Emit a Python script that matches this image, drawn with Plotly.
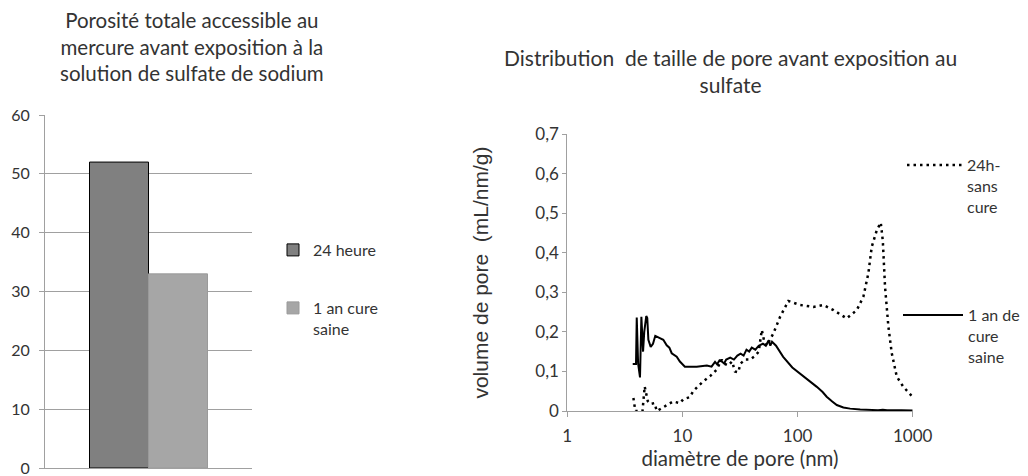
import plotly.graph_objects as go

# ---- Left chart data ----
bar_category = ["porosité"]
bar_names = ["24 heure", "1 an cure<br>saine"]
bar_values = [52, 33]
bar_colors = ["#808080", "#A6A6A6"]
bar_line_colors = ["#000000", "#9A9A9A"]
left_ticks = [0, 10, 20, 30, 40, 50, 60]

# ---- Right chart data ----
diam_1an = [3.70, 3.95, 4.01, 4.12, 4.28, 4.40, 4.55, 4.66, 4.85, 4.95,
            5.06, 5.3, 5.55, 5.81, 6.3, 6.82, 7.3, 7.7, 8.07, 8.92,
            9.5, 10.5, 13.3, 16.3, 17.9, 19.2, 20, 21, 22, 23,
            24, 26, 28, 30, 32, 34, 36, 38, 40, 43,
            46, 50, 53, 56, 58, 60, 65, 75, 90, 105,
            125, 147, 165, 179, 200, 219, 250, 286, 350, 400,
            500, 550, 600, 800, 1000]
vol_1an = [0.119, 0.119, 0.236, 0.12, 0.085, 0.238, 0.15, 0.2, 0.24, 0.235,
           0.18, 0.162, 0.17, 0.19, 0.185, 0.18, 0.166, 0.16, 0.146, 0.137,
           0.125, 0.112, 0.112, 0.115, 0.112, 0.124, 0.118, 0.128, 0.125, 0.12,
           0.13, 0.135, 0.13, 0.14, 0.145, 0.14, 0.155, 0.15, 0.16, 0.155,
           0.165, 0.17, 0.165, 0.178, 0.165, 0.175, 0.165, 0.137, 0.11, 0.095,
           0.078, 0.061, 0.048, 0.036, 0.024, 0.015, 0.009, 0.006, 0.004, 0.003,
           0.002, 0.003, 0.002, 0.002, 0.001]

diam_24h = [3.75, 3.8, 3.9, 4.2, 4.5, 4.7, 4.85, 5.0, 5.3, 5.7,
            6.0, 6.6, 7.3, 8.3, 9.5, 10.2, 11.6, 12.4, 13.4, 15.2,
            17.4, 19.9, 21.9, 23, 25, 27, 28.6, 30.5, 32, 35,
            38.6, 43, 46, 48.9, 51, 54, 61.6, 70.5, 83.2, 105,
            137, 167, 205, 267, 327, 373, 412, 441, 488, 528,
            550, 575, 615, 658, 727, 830, 982]
vol_24h = [0.033, 0.017, 0.0, 0.0, 0.0, 0.062, 0.045, 0.025, 0.018, 0.02,
           0.0, 0.007, 0.015, 0.024, 0.02, 0.03, 0.035, 0.05, 0.06, 0.075,
           0.088, 0.105, 0.13, 0.12, 0.115, 0.125, 0.1, 0.098, 0.12, 0.13,
           0.13, 0.14, 0.15, 0.205, 0.18, 0.165, 0.196, 0.238, 0.278, 0.268,
           0.263, 0.268, 0.255, 0.234, 0.255, 0.289, 0.348, 0.415, 0.457, 0.476,
           0.43, 0.314, 0.213, 0.146, 0.087, 0.061, 0.038]

right_yticks = [0, 0.1, 0.2, 0.3, 0.4, 0.5, 0.6, 0.7]
right_yticktext = ["0", "0,1", "0,2", "0,3", "0,4", "0,5", "0,6", "0,7"]
right_xticks = [1, 10, 100, 1000]
right_xticktext = ["1", "10", "100", "1000"]

FONT = "Lato"
TXT = "#333333"
AX = "#A0A0A0"
GRID = "#A0A0A0"

fig = go.Figure()

fig.add_trace(go.Bar(x=bar_category, y=[bar_values[0]], name=bar_names[0],
                     marker=dict(color=bar_colors[0], line=dict(color=bar_line_colors[0], width=1)),
                     xaxis="x", yaxis="y", legend="legend"))
fig.add_trace(go.Bar(x=bar_category, y=[bar_values[1]], name=bar_names[1],
                     marker=dict(color=bar_colors[1], line=dict(color=bar_line_colors[1], width=1)),
                     xaxis="x", yaxis="y", legend="legend2"))

fig.add_trace(go.Scatter(x=diam_24h, y=vol_24h, mode="lines", name="24h-<br>sans<br>cure",
                         line=dict(color="#000000", width=2.5, dash="2.5px,4px"),
                         xaxis="x2", yaxis="y2", legend="legend3"))
fig.add_trace(go.Scatter(x=diam_1an, y=vol_1an, mode="lines", name="1 an de<br>cure<br>saine",
                         line=dict(color="#000000", width=2),
                         xaxis="x2", yaxis="y2", legend="legend4"))

# figure sits 8px in from the page corner (default body margin)
W, H = 1020, 468
OFF = 8
def px_x(v):
    return (v - OFF) / W
def px_y(v):
    return 1 - (v - OFF) / H

leg_common = dict(bgcolor="rgba(0,0,0,0)", borderwidth=0, xanchor="left", yanchor="top",
                  valign="top")
leg_font_left = dict(family=FONT, size=16, color=TXT)
leg_font_right = dict(family=FONT, size=16, color=TXT)

fig.update_layout(
    width=W, height=H,
    margin=dict(l=0, r=0, t=0, b=0, autoexpand=False),
    paper_bgcolor="white", plot_bgcolor="white",
    font=dict(family=FONT, color=TXT),
    barmode="group", bargap=0.43, bargroupgap=0,
    showlegend=True,
    xaxis=dict(domain=[px_x(45), px_x(252)], showticklabels=False, ticks="",
               showline=True, linecolor=AX, linewidth=1, showgrid=False, fixedrange=True),
    yaxis=dict(domain=[px_y(468), px_y(115)], range=[0, 60], tickvals=left_ticks,
               showline=True, linecolor=AX, linewidth=1, showgrid=True, gridcolor=GRID,
               gridwidth=1, ticks="outside", ticklen=5, tickcolor=AX, ticklabelstandoff=6,
               ticklabeloverflow="allow",
               tickfont=dict(family=FONT, size=16, color=TXT), zeroline=False),
    xaxis2=dict(domain=[px_x(567.3), px_x(912.7)], type="log", range=[0, 3],
                tickvals=right_xticks, ticktext=right_xticktext,
                showline=True, linecolor=AX, linewidth=1, showgrid=False,
                ticks="outside", ticklen=5, tickcolor=AX, anchor="y2", ticklabelstandoff=5,
                tickfont=dict(family=FONT, size=17, color=TXT),
                title=dict(text="diamètre de pore (nm)", standoff=2,
                           font=dict(family=FONT, size=20.5, color=TXT))),
    yaxis2=dict(domain=[px_y(411), px_y(134)], range=[0, 0.7],
                tickvals=right_yticks, ticktext=right_yticktext,
                showline=True, linecolor=AX, linewidth=1, showgrid=False, zeroline=False,
                ticks="outside", ticklen=4, tickcolor=AX, anchor="x2",
                tickfont=dict(family=FONT, size=17, color=TXT),
                title=dict(text="volume de pore\u00a0\u00a0(mL/nm/g)", standoff=40,
                           font=dict(family="Liberation Sans", size=21, color=TXT))),
    legend=dict(x=px_x(273), y=px_y(233), font=leg_font_left, **leg_common),
    legend2=dict(x=px_x(273), y=px_y(291), font=leg_font_left, **leg_common),
    legend3=dict(x=px_x(902), y=px_y(148), itemwidth=55, font=leg_font_right, **leg_common),
    legend4=dict(x=px_x(898), y=px_y(298), itemwidth=60, font=leg_font_right, **leg_common),
    annotations=[
        dict(text="Porosité totale accessible au<br>mercure avant exposition à la<br>solution de sulfate de sodium",
             x=px_x(192), y=px_y(46), xref="paper", yref="paper", xanchor="center", yanchor="middle",
             showarrow=False, align="center", font=dict(family=FONT, size=20.5, color=TXT)),
        dict(text="Distribution\u00a0 de taille de pore avant exposition au<br>sulfate",
             x=px_x(730), y=px_y(71), xref="paper", yref="paper", xanchor="center", yanchor="middle",
             showarrow=False, align="center", font=dict(family=FONT, size=21, color=TXT)),
    ],
)

fig.write_html("out.html")
